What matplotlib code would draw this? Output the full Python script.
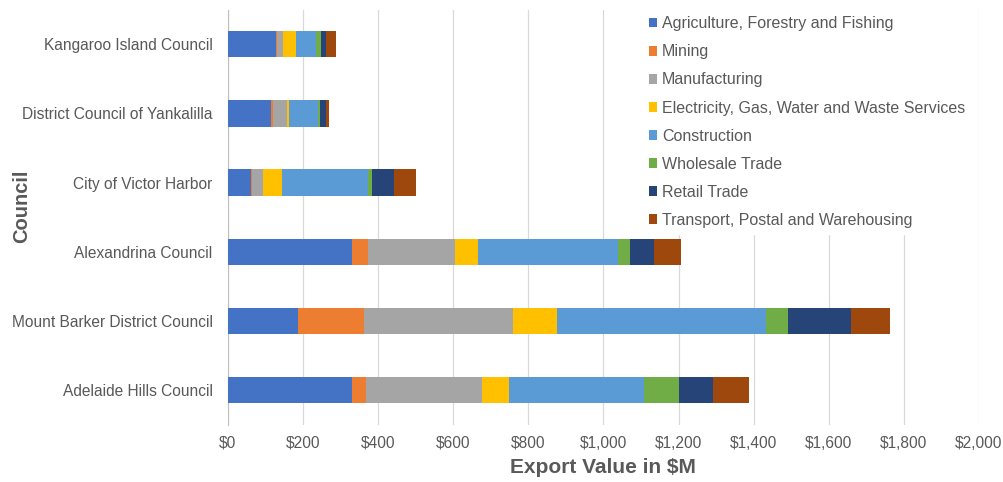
import numpy as np
import matplotlib.pyplot as plt
from matplotlib.ticker import FuncFormatter

# 各地区出口值（百万澳元），从上到下
councils = ['Kangaroo Island Council', 'District Council of Yankalilla', 'City of Victor Harbor',
            'Alexandrina Council', 'Mount Barker District Council', 'Adelaide Hills Council']
industries = ['Agriculture, Forestry and Fishing', 'Mining', 'Manufacturing',
              'Electricity, Gas, Water and Waste Services', 'Construction',
              'Wholesale Trade', 'Retail Trade', 'Transport, Postal and Warehousing']

agriculture = [127, 116, 61, 331, 187, 330]
mining = [5, 4, 4, 43, 175, 39]
manufacturing = [14, 38, 28, 231, 396, 307]
electricity = [36, 6, 50, 62, 119, 72]
construction = [53, 76, 231, 371, 555, 360]
wholesale = [12, 5, 9, 33, 60, 92]
retail = [15, 16, 59, 65, 168, 91]
transport = [27, 9, 58, 71, 104, 96]

series = [agriculture, mining, manufacturing, electricity, construction, wholesale, retail, transport]
colors = ['#4472C4', '#ED7D31', '#A5A5A5', '#FFC000', '#5B9BD5', '#70AD47', '#264478', '#9E480E']

plt.rcParams['font.family'] = ['Liberation Sans', 'DejaVu Sans']

fig = plt.figure(figsize=(10.04, 4.82), dpi=100)
ax = fig.add_axes([0.227, 0.119, 0.748, 0.861])

y = np.arange(len(councils))
left = np.zeros(len(councils))
for name, vals, c in zip(industries, series, colors):
    ax.barh(y, vals, left=left, height=0.38, color=c, label=name, zorder=3)
    left += np.array(vals)

ax.set_ylim(len(councils) - 0.5, -0.5)
ax.set_xlim(0, 2000)
ax.set_xticks(np.arange(0, 2001, 200))
ax.xaxis.set_major_formatter(FuncFormatter(lambda v, p: f'${v:,.0f}'))
ax.set_yticks(y)
ax.set_yticklabels(councils)

ax.grid(axis='x', color='#D9D9D9', linewidth=0.9, zorder=0)
for s in ['top', 'right', 'bottom']:
    ax.spines[s].set_visible(False)
ax.spines['left'].set_color('#BFBFBF')
ax.tick_params(axis='both', length=0, colors='#595959', labelsize=11.2)
ax.tick_params(axis='x', pad=8)
ax.tick_params(axis='y', pad=11)

ax.set_xlabel('Export Value in $M', fontsize=15, fontweight='bold', color='#595959', labelpad=5)
ax.set_ylabel('Council', fontsize=14.5, fontweight='bold', color='#595959')
ax.yaxis.set_label_coords(-0.262, 0.525)

leg = ax.legend(loc='upper right', bbox_to_anchor=(0.997, 1.011), frameon=True, fontsize=11.5,
                handlelength=0.55, handleheight=0.55, handletextpad=0.3, labelspacing=0.82,
                borderaxespad=0.3, labelcolor='#595959')
leg.get_frame().set_edgecolor('white')
leg.get_frame().set_facecolor('white')
leg.get_frame().set_alpha(1)
leg.set_zorder(5)

fig.savefig('out.png', dpi=100)
